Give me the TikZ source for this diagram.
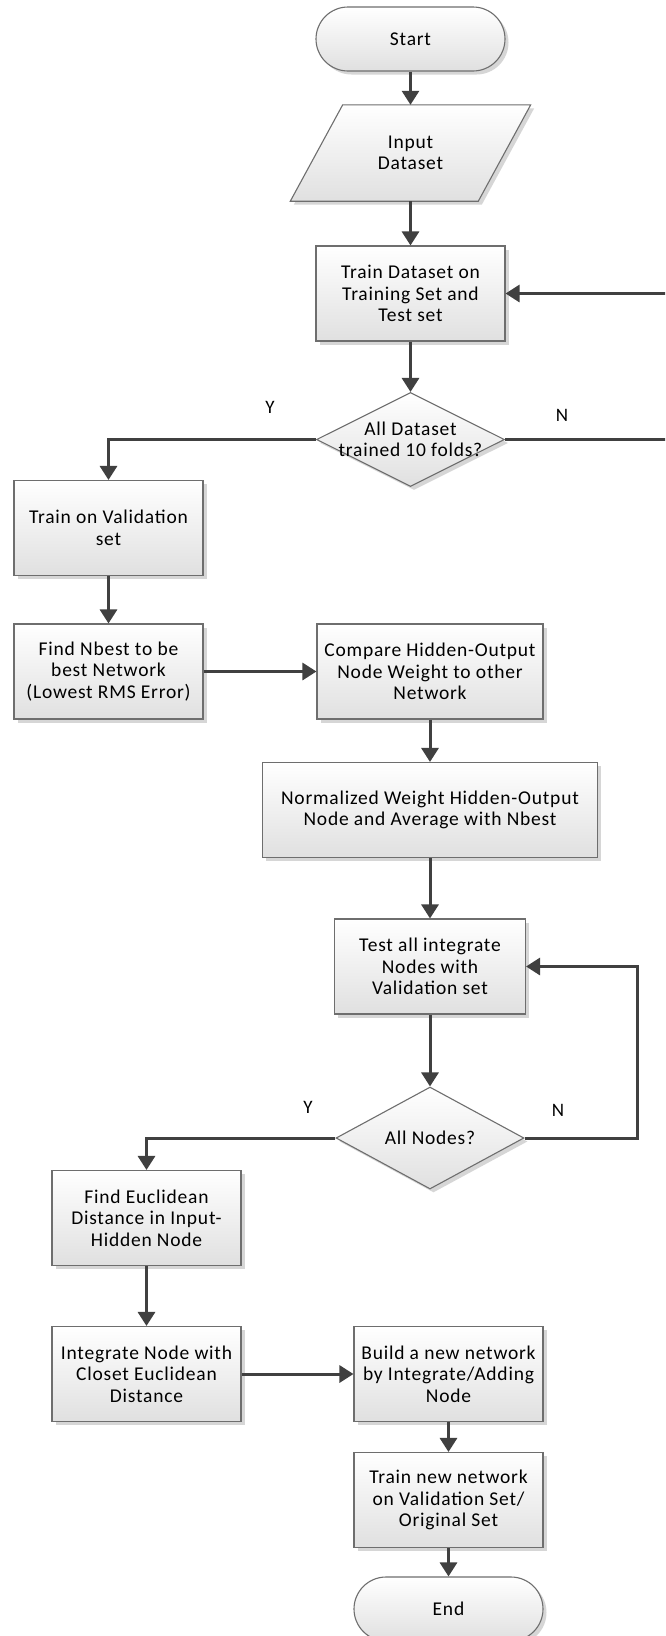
\documentclass[tikz,border=0pt]{standalone}
\usepackage{fontspec}
\setmainfont{Carlito}[LetterSpace=4]
\usetikzlibrary{shapes.geometric,arrows.meta,shadows,calc}
\definecolor{linegray}{HTML}{404040}
\definecolor{edgegray}{HTML}{6E6E6E}
\definecolor{shadegray}{HTML}{E0E0E0}
\definecolor{shadowgray}{HTML}{D6D6D6}

\begin{document}
\begin{tikzpicture}[x=1pt,y=-1pt,
  every node/.style={font=\fontsize{19.5}{21.5}\selectfont, text=black},
  shaded/.style={draw=edgegray, line width=1.1pt, top color=white, bottom color=shadegray,
    drop shadow={shadow xshift=3.5pt, shadow yshift=-3.5pt, fill=shadowgray, opacity=1}},
  procbox/.style={shaded, rectangle, minimum width=#1, minimum height=95pt,
    align=center, inner sep=0pt},
  termbox/.style={shaded, rectangle, rounded corners=32pt, minimum width=189pt,
    minimum height=64pt, align=center, inner sep=0pt},
  decision/.style n args={2}{shaded, diamond, minimum width=#1, minimum height=#2,
    inner sep=0pt},
  arr/.style={draw=linegray, line width=3pt,
    -{Triangle[width=17pt,length=14pt]}, color=linegray},
  lbl/.style={font=\fontsize{19}{21}\selectfont}
]
% page
\fill[white] (0,0) rectangle (665,1636);
\useasboundingbox (0,0) rectangle (665,1636);
\clip (0,0) rectangle (665,1636);

% --- upper column ---
\node[termbox] (start) at (410.5,39) {Start};
\node[minimum width=240pt, minimum height=96pt, inner sep=0pt] (input) at (410.5,153) {};
\path[shaded] (input.south west) -- ++(188,0) -- (input.north east) -- ++(-188,0) -- cycle;
\node[align=center] (inputtext) at (input) {Input\\Dataset};
\node[procbox=189pt] (train) at (410.5,293.5) {Train Dataset on\\Training Set and\\Test set};
\node[decision={188pt}{94pt}, label={[align=center]center:All Dataset\\trained 10 folds?}]
  (folds) at (410.5,439.5) {};
\node[lbl] (y1) at (270,407) {Y};
\node[lbl] (n1) at (562,415) {N};
% the return line of the first loop runs beyond the right page edge
\coordinate (loop1) at (672,439.5);

% --- left column ---
\node[procbox=189pt] (valid) at (108.5,528) {Train on Validation\\set};
\node[procbox=189pt] (nbest) at (108.5,671.5) {Find Nbest to be\\best Network\\(Lowest RMS Error)};

% --- middle column ---
\node[procbox=226pt] (compare) at (430,671.5) {Compare Hidden-Output\\Node Weight to other\\Network};
\node[procbox=335pt] (norm) at (430,810) {Normalized Weight Hidden-Output\\Node and Average with Nbest};
\node[procbox=191pt] (testall) at (430,966.5) {Test all integrate\\Nodes with\\Validation set};
\node[decision={188pt}{102pt}, label={center:All Nodes?}] (allnodes) at (430,1138) {};
\node[lbl] (y2) at (308,1107) {Y};
\node[lbl] (n2) at (558,1110) {N};
\coordinate (loop2) at (637,1138);

% --- lower part ---
\node[procbox=189pt] (euclid) at (146.5,1218) {Find Euclidean\\Distance in Input-\\Hidden Node};
\node[procbox=189pt] (integ) at (146.5,1374) {Integrate Node with\\Closet Euclidean\\Distance};
\node[procbox=189pt] (build) at (448.5,1374) {Build a new network\\by Integrate/Adding\\Node};
\node[procbox=189pt] (trainnew) at (448.5,1500) {Train new network\\on Validation Set/\\Original Set};
\node[termbox] (end) at (448.5,1609) {End};

% --- connectors ---
\draw[arr] (start) -- (input);
\draw[arr] (input) -- (train);
\draw[arr] (train) -- (folds);
\draw[arr] (folds.east) -- (loop1) |- (train.east);
\draw[arr] (folds.west) -| (valid.north);
\draw[arr] (valid) -- (nbest);
\draw[arr] (nbest) -- (compare);
\draw[arr] (compare) -- (norm);
\draw[arr] (norm) -- (testall);
\draw[arr] (testall) -- (allnodes);
\draw[arr] (allnodes.east) -- (loop2) |- (testall.east);
\draw[arr] (allnodes.west) -| (euclid.north);
\draw[arr] (euclid) -- (integ);
\draw[arr] (integ) -- (build);
\draw[arr] (build) -- (trainnew);
\draw[arr] (trainnew) -- (end);
\end{tikzpicture}
\end{document}
